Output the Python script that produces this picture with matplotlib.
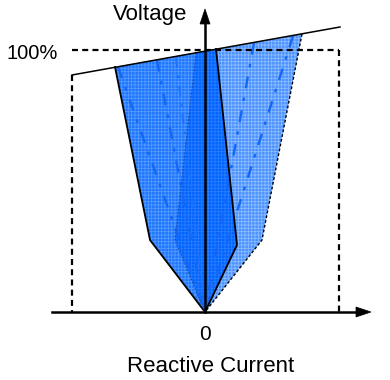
import matplotlib
matplotlib.use("Agg")
import matplotlib.pyplot as plt
from matplotlib.patches import Polygon

plt.rcParams['font.family'] = ['Liberation Sans', 'DejaVu Sans']
plt.rcParams['hatch.linewidth'] = 0.6

# 示意图坐标（像素坐标系，y 向下）
origin = (205, 312)
slope_line = [(72, 75), (340, 27)]
dashed_box_x = [72, 339]
dashed_box_top = 50

# 左侧区域（实线边框）
shape_a = [(205, 312), (150, 240), (115, 67), (216, 49), (237, 245)]
# 右侧区域（虚线边框）
shape_b = [(205, 312), (175, 240), (196, 53), (302, 34), (262, 240)]
# 重叠部分
shape_ab = [(205, 312), (175, 240), (196, 53), (216, 49), (237, 245)]

# 指向原点的点划线起点
dashdot_tops = [(118, 67), (157, 60), (254, 43), (293, 36)]
faint_tops = [(176, 58)]

fig = plt.figure(figsize=(3.9, 3.8), dpi=100)
ax = fig.add_axes([0, 0, 1, 1])
ax.set_xlim(0, 390)
ax.set_ylim(380, 0)
ax.axis('off')

ax.add_patch(Polygon(shape_a, closed=True, facecolor='#1c76ff', edgecolor='#5599ff',
                     linewidth=0, hatch='+++++', zorder=1))
ax.add_patch(Polygon(shape_b, closed=True, facecolor='#4a92ff', edgecolor='#8cbaff',
                     linewidth=0, hatch='+++++', zorder=2))
ax.add_patch(Polygon(shape_ab, closed=True, facecolor='#0064ff', edgecolor='#2a7cff',
                     linewidth=0, hatch='+++++', zorder=3))

# 点划线
for (x, y) in dashdot_tops:
    ax.plot([x, origin[0]], [y, origin[1]], color='#1466f5', lw=1.7,
            linestyle=(0, (5, 4, 1.5, 4)), zorder=4)
for (x, y) in faint_tops:
    ax.plot([x, origin[0]], [y, origin[1]], color='#1a70ff', lw=1.4,
            linestyle=(0, (5, 4, 1.5, 4)), zorder=4)

# 左侧区域实线边框
ax.plot([shape_a[2][0], shape_a[1][0], shape_a[0][0]],
        [shape_a[2][1], shape_a[1][1], shape_a[0][1]], color='black', lw=1.3, zorder=5)
ax.plot([shape_a[3][0], shape_a[4][0], shape_a[0][0]],
        [shape_a[3][1], shape_a[4][1], shape_a[0][1]], color='black', lw=1.3, zorder=5)
# 右侧区域虚线边框
ax.plot([shape_b[3][0], shape_b[4][0], shape_b[0][0]],
        [shape_b[3][1], shape_b[4][1], shape_b[0][1]], color='black', lw=1.0,
        linestyle=(0, (2, 1.5)), zorder=5)
ax.plot([shape_b[2][0], shape_b[1][0], shape_b[0][0]],
        [shape_b[2][1], shape_b[1][1], shape_b[0][1]], color='#1a4fb0', lw=0.8,
        linestyle=(0, (1.5, 1.5)), zorder=5)

# 虚线框
dash = (0, (2.7, 1.9))
ax.plot([dashed_box_x[0], dashed_box_x[0]], [slope_line[0][1], origin[1]],
        color='black', lw=1.6, linestyle=dash, zorder=6)
ax.plot(dashed_box_x, [dashed_box_top, dashed_box_top],
        color='black', lw=1.6, linestyle=dash, zorder=6)
ax.plot([dashed_box_x[1], dashed_box_x[1]], [dashed_box_top, origin[1]],
        color='black', lw=1.6, linestyle=dash, zorder=6)

# 斜线
ax.plot([p[0] for p in slope_line], [p[1] for p in slope_line], color='black', lw=1.1, zorder=7)

# 坐标轴
ax.plot([52, 358], [origin[1], origin[1]], color='black', lw=1.8, zorder=8)
ax.add_patch(Polygon([(356, 307), (371, origin[1]), (356, 317)], closed=True,
                     facecolor='black', edgecolor='black', lw=0.5, zorder=8))
ax.plot([origin[0], origin[0]], [origin[1], 22], color='black', lw=1.8, zorder=8)
ax.add_patch(Polygon([(200, 24), (origin[0], 9), (210, 24)], closed=True,
                     facecolor='black', edgecolor='black', lw=0.5, zorder=8))

# 文本
ax.text(150, 20, 'Voltage', fontsize=16, ha='center', va='baseline')
ax.text(7, 59, '100%', fontsize=14.5, ha='left', va='baseline')
ax.text(205, 340, '0', fontsize=15, ha='center', va='baseline')
ax.text(211, 372, 'Reactive Current', fontsize=16, ha='center', va='baseline')

fig.savefig('out.png', dpi=100)
